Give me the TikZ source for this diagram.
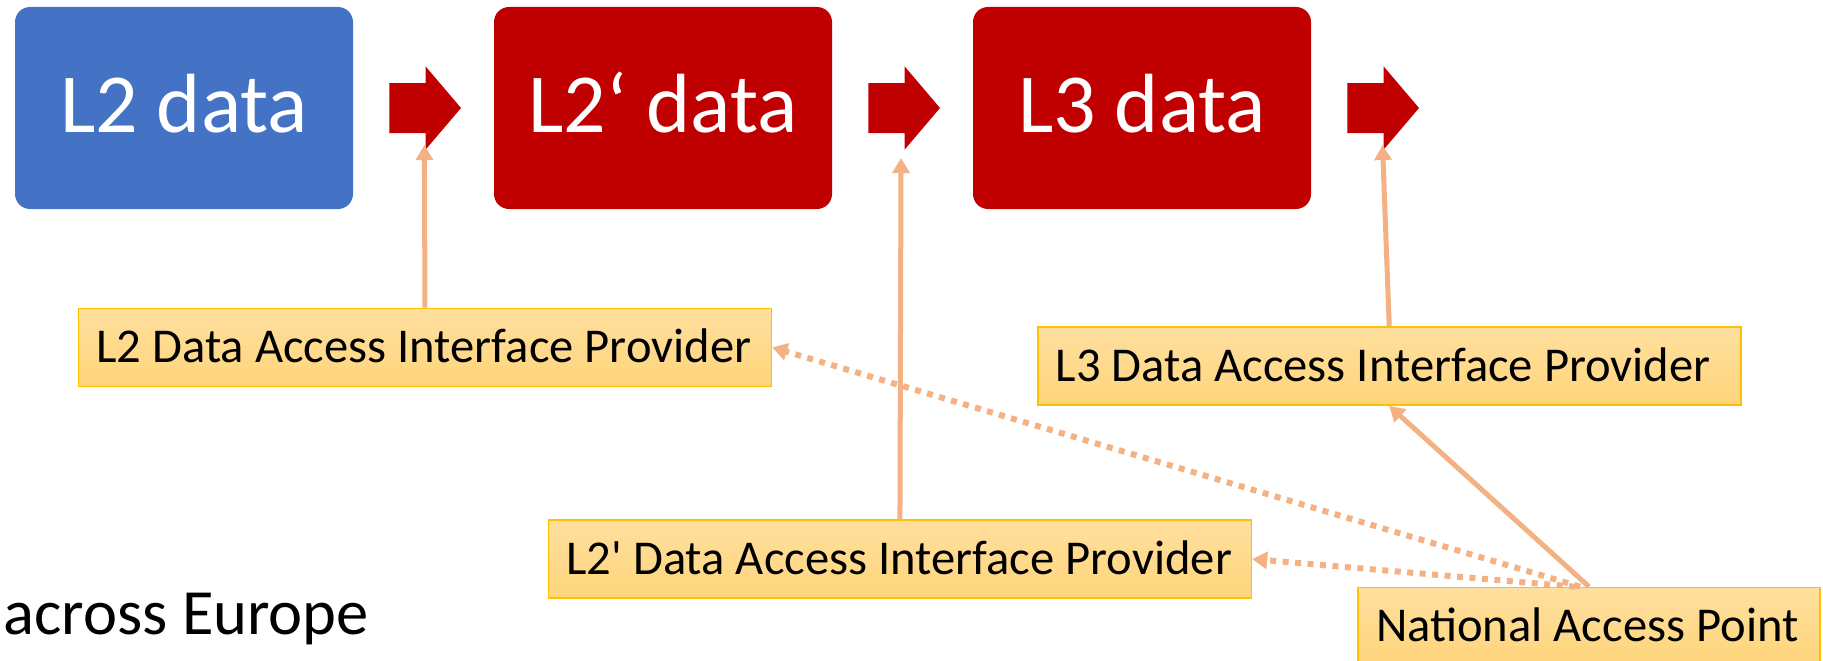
\documentclass[tikz,border=0pt]{standalone}
\usepackage{fontspec}
\setmainfont{Carlito}
\usetikzlibrary{arrows.meta}

\definecolor{boxblue}{HTML}{4472C4}
\definecolor{boxred}{HTML}{C00000}
\definecolor{linkorange}{HTML}{F4B183}
\definecolor{tagborder}{HTML}{FFC000}
\definecolor{tagtop}{HTML}{FFDF9F}
\definecolor{tagbottom}{HTML}{FFD57B}

\newcommand{\tagtext}[2]{\makebox[#1][l]{#2}}

\tikzset{
  databox/.style={rounded corners=15pt, minimum width=338pt, minimum height=202pt,
    inner sep=0pt, text=white, font=\fontsize{84}{98}\selectfont,
    text height=53.5pt, text depth=5pt},
  tagbox/.style={draw=tagborder, line width=1.5pt, top color=tagtop, bottom color=tagbottom,
    anchor=north west, minimum height=78pt, inner xsep=18pt, inner ysep=0pt,
    font=\fontsize{48.6}{58}\selectfont, text height=30.7pt, text depth=0pt},
  link/.style={draw=linkorange, line width=5pt, -{Triangle[width=17pt,length=15pt]}},
  dotlink/.style={link, line width=6pt, dash pattern=on 6pt off 6.5pt},
  blockarrow/.pic={
    \fill[boxred] (0,-25) -- (36.4,-25) -- (36.4,-41.5) -- (71.7,0)
      -- (36.4,41.5) -- (36.4,25) -- (0,25) -- cycle;
  }
}

\begin{document}
\begin{tikzpicture}[x=1pt, y=-1pt]
\useasboundingbox (0,0) rectangle (1823,661);
\clip (0,0) rectangle (1823,661);

% processing stages
\node[databox, fill=boxblue] (l2) at (184,108) {L2 data};
\node[databox, fill=boxred]  (l2p) at (663,108) {L2‘ data};
\node[databox, fill=boxred]  (l3) at (1142,108) {L3 data};

% block arrows after each stage
\pic (ba1) at (389.3,108) {blockarrow};
\pic (ba2) at (868.3,108) {blockarrow};
\pic (ba3) at (1347.3,108) {blockarrow};

% points where the access interfaces attach
\coordinate (tip1) at (424.4,145);
\coordinate (tip2) at (901,158);
\coordinate (tip3) at (1382.5,145);

% access interface providers
\node[tagbox] (l2dai) at (77.7,307.7) {\tagtext{657pt}{L2 Data Access Interface Provider}};
\node[tagbox] (l2pdai) at (547.7,519.3) {\tagtext{667pt}{L2\textquotesingle{} Data Access Interface Provider}};
\node[tagbox] (l3dai) at (1037,326.4) {\tagtext{667pt}{L3 Data Access Interface Provider}};
\node[tagbox] (nap) at (1357.3,586.7) {\tagtext{426pt}{National Access Point}};

\node[anchor=base west, inner sep=0pt, font=\fontsize{64.5}{76}\selectfont] (europe) at (3.3,634) {across Europe};

% interface links
\draw[link] (l2dai.north) -- (tip1);
\draw[link] (l2pdai.north) -- (tip2);
\draw[link] (l3dai.north) -- (tip3);
\draw[link] (nap.north) -- (l3dai.south);
\draw[dotlink] ([xshift=-9pt]nap.north) -- (l2dai.east);
\draw[dotlink] ([xshift=-14pt]nap.north) -- (l2pdai.east);
\end{tikzpicture}
\end{document}
